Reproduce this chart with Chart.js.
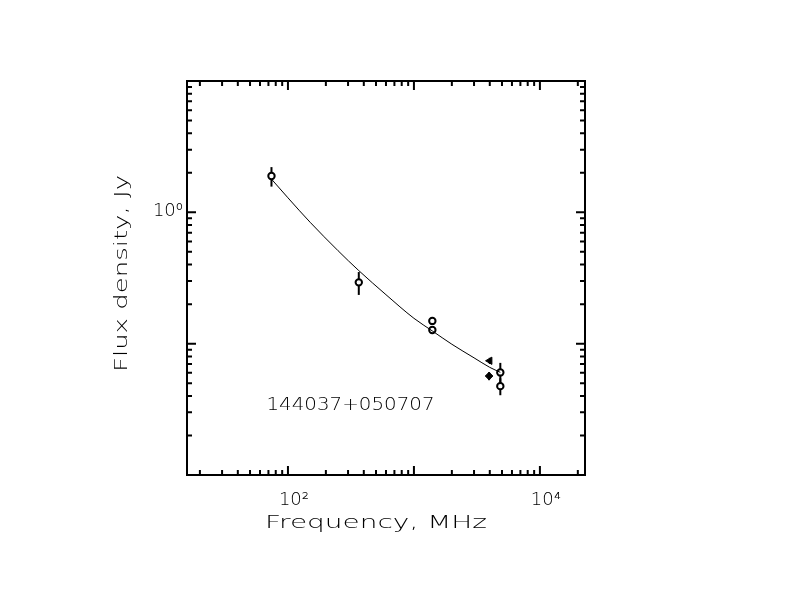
<!DOCTYPE html>
<html>
<head>
<meta charset="utf-8">
<script src="https://cdn.jsdelivr.net/npm/chart.js@4.4.1/dist/chart.umd.min.js"></script>
<style>
  html, body { margin: 0; padding: 0; background: #fff; }
  #spec { display: block; }
</style>
</head>
<body>
<canvas id="spec" width="792" height="612"></canvas>
<script>
// fitted spectrum
const freqCurve = [74, 100, 150, 250, 365, 600, 1000, 1400, 2000, 3000, 4000, 4850];
const fluxCurve = [1.79, 1.29, 0.84, 0.51, 0.36, 0.236, 0.156, 0.125, 0.099, 0.078, 0.066, 0.0605];

// measurements (open circles)
const freqOpen = [74, 365, 1400, 1400, 4850, 4850];
const fluxOpen = [1.89, 0.293, 0.149, 0.127, 0.0604, 0.0475];
const errOpen  = [0.32, 0.058, 0, 0, 0.011, 0.007];

// filled symbols
const freqTri = [4000];
const fluxTri = [0.0741];
const errTri  = [0.004];
const freqDia = [3950];
const fluxDia = [0.0567];
const errDia  = [0.004];

// axis labels
const xTickValues = [100, 10000];
const xTickLabels = ['10\u00B2', '10\u2074'];
const yTickValues = [1];
const yTickLabels = ['10\u2070'];
const xTitle = 'Frequency, MHz';
const yTitle = 'Flux density, Jy';
const sourceName = '144037+050707';

const pts = (xs, ys) => xs.map((x, i) => ({x: x, y: ys[i]}));
const FONT = '200 18px "DejaVu Sans"';

// text stretched to a given width (PGPLOT fonts are wide)
function wideText(ctx, text, x, y, w, angle) {
  ctx.save();
  ctx.translate(x, y);
  ctx.rotate(angle || 0);
  const m = ctx.measureText(text).width;
  ctx.scale(w / m, 1);
  ctx.textAlign = 'left';
  ctx.textBaseline = 'alphabetic';
  ctx.fillText(text, 0, 0);
  ctx.restore();
}

const errorBars = {
  id: 'errorBars',
  beforeDatasetsDraw(chart) {
    const ctx = chart.ctx, ys = chart.scales.y, xs = chart.scales.x;
    chart.data.datasets.forEach(ds => {
      if (!ds.errors) return;
      ctx.save();
      ctx.strokeStyle = '#000';
      ctx.lineWidth = 2;
      ds.data.forEach((p, i) => {
        const e = ds.errors[i];
        if (!e) return;
        const px = xs.getPixelForValue(p.x);
        ctx.beginPath();
        ctx.moveTo(px, ys.getPixelForValue(p.y + e));
        ctx.lineTo(px, ys.getPixelForValue(p.y - e));
        ctx.stroke();
      });
      ctx.restore();
    });
  }
};

const frame = {
  id: 'frame',
  afterDraw(chart) {
    const ctx = chart.ctx, a = chart.chartArea;
    const xs = chart.scales.x, ys = chart.scales.y;
    ctx.save();
    ctx.strokeStyle = '#000';
    ctx.lineWidth = 2;
    ctx.strokeRect(a.left, a.top, a.right - a.left, a.bottom - a.top);

    // inward log ticks on all four sides
    ctx.beginPath();
    for (let k = 1; k <= 4; k++) {
      for (let m = 1; m <= 9; m++) {
        const v = m * Math.pow(10, k);
        if (v < xs.min || v > xs.max) continue;
        const px = xs.getPixelForValue(v);
        const len = m === 1 ? 9 : 5;
        ctx.moveTo(px, a.bottom); ctx.lineTo(px, a.bottom - len);
        ctx.moveTo(px, a.top); ctx.lineTo(px, a.top + len);
      }
    }
    for (let k = -2; k <= 1; k++) {
      for (let m = 1; m <= 9; m++) {
        const v = m * Math.pow(10, k);
        if (v < ys.min || v > ys.max) continue;
        const py = ys.getPixelForValue(v);
        const len = m === 1 ? 9 : 5;
        ctx.moveTo(a.left, py); ctx.lineTo(a.left + len, py);
        ctx.moveTo(a.right, py); ctx.lineTo(a.right - len, py);
      }
    }
    ctx.stroke();

    ctx.fillStyle = '#000';
    ctx.font = FONT;
    ctx.textBaseline = 'alphabetic';
    ctx.textAlign = 'center';
    xTickValues.forEach((v, i) => {
      ctx.fillText(xTickLabels[i], xs.getPixelForValue(v) + 6, a.bottom + 30);
    });
    ctx.textAlign = 'right';
    yTickValues.forEach((v, i) => {
      ctx.fillText(yTickLabels[i], a.left - 4, ys.getPixelForValue(v) + 4);
    });

    wideText(ctx, xTitle, 265, 528, 222, 0);
    wideText(ctx, yTitle, 126.5, 372, 197, -Math.PI / 2);
    wideText(ctx, sourceName, 266.5, 409.5, 168, 0);
    ctx.restore();
  }
};

new Chart(document.getElementById('spec'), {
  type: 'scatter',
  data: {
    datasets: [
      {
        type: 'line',
        data: pts(freqCurve, fluxCurve),
        borderColor: '#000',
        borderWidth: 1,
        pointRadius: 0,
        cubicInterpolationMode: 'monotone',
        fill: false
      },
      {
        data: pts(freqOpen, fluxOpen),
        errors: errOpen,
        pointStyle: 'circle',
        pointRadius: 3.2,
        borderWidth: 2,
        borderColor: '#000',
        backgroundColor: '#fff'
      },
      {
        data: pts(freqTri, fluxTri),
        errors: errTri,
        pointStyle: 'triangle',
        rotation: 270,
        pointRadius: 4.2,
        borderWidth: 1,
        borderColor: '#000',
        backgroundColor: '#000'
      },
      {
        data: pts(freqDia, fluxDia),
        errors: errDia,
        pointStyle: 'rectRot',
        pointRadius: 3.8,
        borderWidth: 1,
        borderColor: '#000',
        backgroundColor: '#000'
      }
    ]
  },
  options: {
    responsive: false,
    devicePixelRatio: 1,
    animation: false,
    layout: { padding: { left: 187, right: 207, top: 81, bottom: 137 } },
    plugins: { legend: { display: false }, tooltip: { enabled: false } },
    scales: {
      x: { type: 'logarithmic', min: 15.8, max: 22800, display: false },
      y: { type: 'logarithmic', min: 0.01, max: 10, display: false }
    }
  },
  plugins: [errorBars, frame]
});
</script>
</body>
</html>
